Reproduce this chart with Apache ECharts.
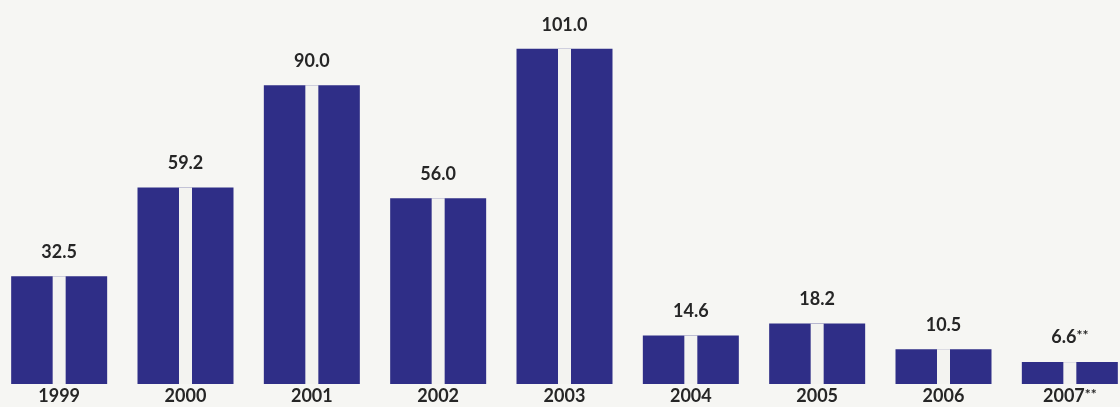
<!DOCTYPE html>
<html>
<head>
<meta charset="utf-8">
<script src="https://cdn.jsdelivr.net/npm/echarts@6/dist/echarts.min.js"></script>
<style>
html,body{margin:0;padding:0;background:#f6f6f3;overflow:hidden;width:1120px;height:407px;position:relative;}
#chart{position:absolute;left:-4px;top:0;width:1137px;height:407px;}
</style>
</head>
<body>
<div id="chart"></div>
<script>
const categories = ['1999','2000','2001','2002','2003','2004','2005','2006','2007**'];
const values = [32.5, 59.2, 90.0, 56.0, 101.0, 14.6, 18.2, 10.5, 6.6];
const valueLabels = ['32.5','59.2','90.0','56.0','101.0','14.6','18.2','10.5','6.6**'];

function starRich(s) {
  return s.replace(/\*\*$/, '{s|**}');
}

const chart = echarts.init(document.getElementById('chart'));
const font = 'Lato';
chart.setOption({
  backgroundColor: '#f6f6f3',
  animation: false,
  grid: { left: 0, right: 0, top: 19, bottom: 23, containLabel: false },
  xAxis: [
    {
      type: 'category', data: categories,
      axisLine: { show: false }, axisTick: { show: false },
      axisLabel: {
        color: '#262626', fontFamily: font, fontSize: 18, fontWeight: 'bold', margin: 3,
        formatter: v => starRich(v),
        rich: { s: { fontFamily: font, fontSize: 14, fontWeight: 'bold', color: '#262626', padding: [0, 0, 5, 0] } }
      }
    },
    {
      type: 'category', data: categories, show: false
    }
  ],
  yAxis: { type: 'value', min: 0, max: 110, show: false, splitLine: { show: false } },
  series: [
    {
      type: 'bar', data: values, xAxisIndex: 0, barWidth: 96,
      itemStyle: { color: '#2f2e87' },
      label: {
        show: true, position: 'top', distance: 15,
        color: '#262626', fontFamily: font, fontSize: 18, fontWeight: 'bold',
        formatter: p => starRich(valueLabels[p.dataIndex]),
        rich: { s: { fontFamily: font, fontSize: 14, fontWeight: 'bold', color: '#262626', padding: [0, 0, 5, 0] } }
      }
    },
    {
      type: 'bar', data: values, xAxisIndex: 1, barWidth: 13,
      itemStyle: { color: '#f3f3f0' },
      silent: true
    }
  ]
});
</script>
</body>
</html>
